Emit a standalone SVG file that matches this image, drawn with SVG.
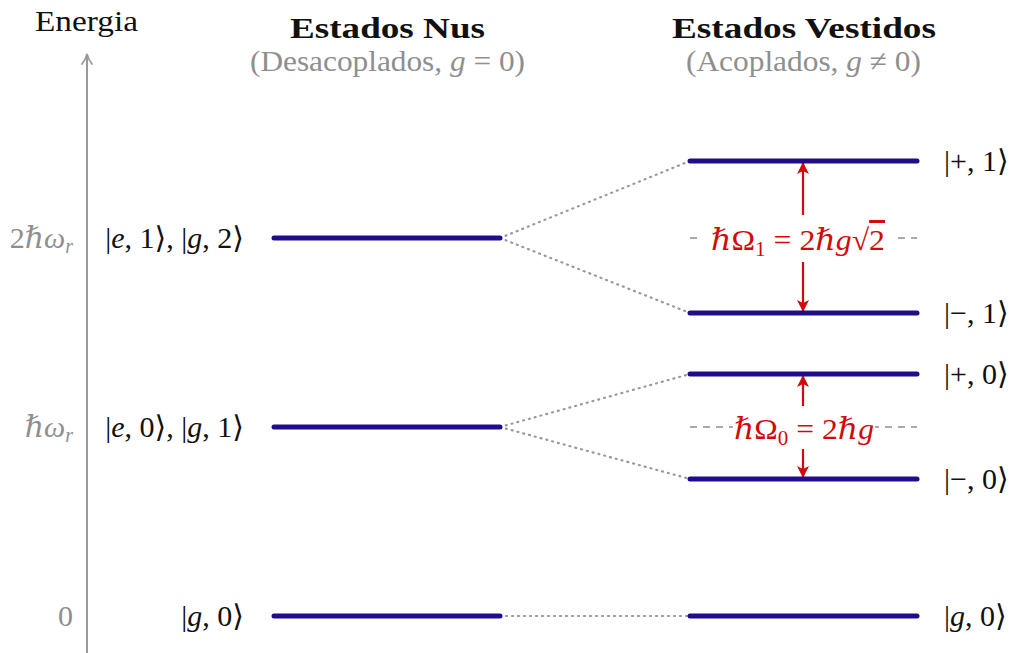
<svg xmlns="http://www.w3.org/2000/svg" width="1019" height="653" viewBox="0 0 1019 653">
<style>
text{font-family:"Liberation Serif","DejaVu Serif",serif;font-size:30px;fill:#111}
.g{fill:#8f8f8f}
.b{font-weight:bold}
.i{font-style:italic}
.r{fill:#d10a0a}
.lvl{stroke:#210c8c;stroke-width:5;stroke-linecap:round;fill:none}
.dot{stroke:#999;stroke-width:2.2;stroke-dasharray:1 5;stroke-linecap:round;fill:none}
.dash{stroke:#aaa;stroke-width:2;stroke-dasharray:7 6;fill:none}
.arr{stroke:#d10a0a;stroke-width:2.2;fill:none}
.sub{font-size:20px}
</style>
<defs>
<marker id="ra" viewBox="0 0 12 12" refX="11" refY="6" markerWidth="12" markerHeight="12" markerUnits="userSpaceOnUse" orient="auto">
<path d="M0,0 L12,6 L0,12 L3,6 Z" fill="#d10a0a"/>
</marker>
<marker id="ga" viewBox="0 0 12 12" refX="11" refY="6" markerWidth="12" markerHeight="12" markerUnits="userSpaceOnUse" orient="auto">
<path d="M1,1 Q6,5 11,6 Q6,7 1,11" fill="none" stroke="#999" stroke-width="1.8" stroke-linecap="round"/>
</marker>
</defs>

<g id="axis">
<line x1="87" y1="653" x2="87" y2="54" stroke="#999" stroke-width="2" marker-end="url(#ga)"/>
<text x="35" y="31" textLength="103" lengthAdjust="spacingAndGlyphs">Energia</text>
<text x="73" y="248" text-anchor="end" class="g">2ℏ<tspan class="i">ω</tspan><tspan class="sub i" dy="5">r</tspan></text>
<text x="73" y="437" text-anchor="end" class="g">ℏ<tspan class="i">ω</tspan><tspan class="sub i" dy="5">r</tspan></text>
<text x="73" y="626" text-anchor="end" class="g">0</text>
</g>

<g id="headers">
<text x="290" y="38" class="b" textLength="195" lengthAdjust="spacingAndGlyphs">Estados Nus</text>
<text x="250" y="71" class="g" textLength="275" lengthAdjust="spacingAndGlyphs">(Desacoplados, <tspan class="i">g</tspan> = 0)</text>
<text x="672" y="38" class="b" textLength="264" lengthAdjust="spacingAndGlyphs">Estados Vestidos</text>
<text x="686" y="71" class="g" textLength="235" lengthAdjust="spacingAndGlyphs">(Acoplados, <tspan class="i">g</tspan> ≠ 0)</text>
</g>

<g id="connectors">
<line class="dot" x1="500" y1="238" x2="690" y2="161"/>
<line class="dot" x1="500" y1="238" x2="690" y2="313"/>
<line class="dot" x1="500" y1="427" x2="690" y2="374"/>
<line class="dot" x1="500" y1="427" x2="690" y2="479"/>
<line class="dot" x1="500" y1="616" x2="690" y2="616"/>
<line class="dash" x1="690" y1="238" x2="917" y2="238"/>
<line class="dash" x1="690" y1="427" x2="917" y2="427"/>
<line class="arr" x1="803" y1="215" x2="803" y2="163" marker-end="url(#ra)"/>
<line class="arr" x1="803" y1="262" x2="803" y2="311" marker-end="url(#ra)"/>
<line class="arr" x1="803" y1="406" x2="803" y2="376" marker-end="url(#ra)"/>
<line class="arr" x1="803" y1="449" x2="803" y2="477" marker-end="url(#ra)"/>
</g>

<g id="bare-g0">
<line class="lvl" x1="274" y1="616" x2="500" y2="616"/>
<text x="244" y="626" text-anchor="end">|<tspan class="i">g</tspan>, 0⟩</text>
</g>
<g id="bare-1">
<line class="lvl" x1="274" y1="427" x2="500" y2="427"/>
<text x="244" y="437" text-anchor="end">|<tspan class="i">e</tspan>, 0⟩, |<tspan class="i">g</tspan>, 1⟩</text>
</g>
<g id="bare-2">
<line class="lvl" x1="274" y1="238" x2="500" y2="238"/>
<text x="244" y="248" text-anchor="end">|<tspan class="i">e</tspan>, 1⟩, |<tspan class="i">g</tspan>, 2⟩</text>
</g>

<g id="dressed-p1">
<line class="lvl" x1="690" y1="161" x2="917" y2="161"/>
<text x="944" y="171">|+, 1⟩</text>
</g>
<g id="dressed-m1">
<line class="lvl" x1="690" y1="313" x2="917" y2="313"/>
<text x="944" y="323">|−, 1⟩</text>
</g>
<g id="dressed-p0">
<line class="lvl" x1="690" y1="374" x2="917" y2="374"/>
<text x="944" y="384">|+, 0⟩</text>
</g>
<g id="dressed-m0">
<line class="lvl" x1="690" y1="479" x2="917" y2="479"/>
<text x="944" y="489">|−, 0⟩</text>
</g>
<g id="dressed-g0">
<line class="lvl" x1="690" y1="616" x2="917" y2="616"/>
<text x="944" y="626">|<tspan class="i">g</tspan>, 0⟩</text>
</g>

<g id="splitting-1">
<rect x="700" y="216" width="195" height="44" fill="#fff"/>
<text x="711" y="250" class="r" textLength="174" lengthAdjust="spacingAndGlyphs">ℏΩ<tspan class="sub" dy="6">1</tspan><tspan dy="-6"> = 2ℏ</tspan><tspan class="i">g</tspan>√<tspan text-decoration="overline">2</tspan></text>
</g>
<g id="splitting-0">
<rect x="733" y="408" width="142" height="38" fill="#fff"/>
<text x="734" y="439" class="r" textLength="140" lengthAdjust="spacingAndGlyphs">ℏΩ<tspan class="sub" dy="6">0</tspan><tspan dy="-6"> = 2ℏ</tspan><tspan class="i">g</tspan></text>
</g>
</svg>
